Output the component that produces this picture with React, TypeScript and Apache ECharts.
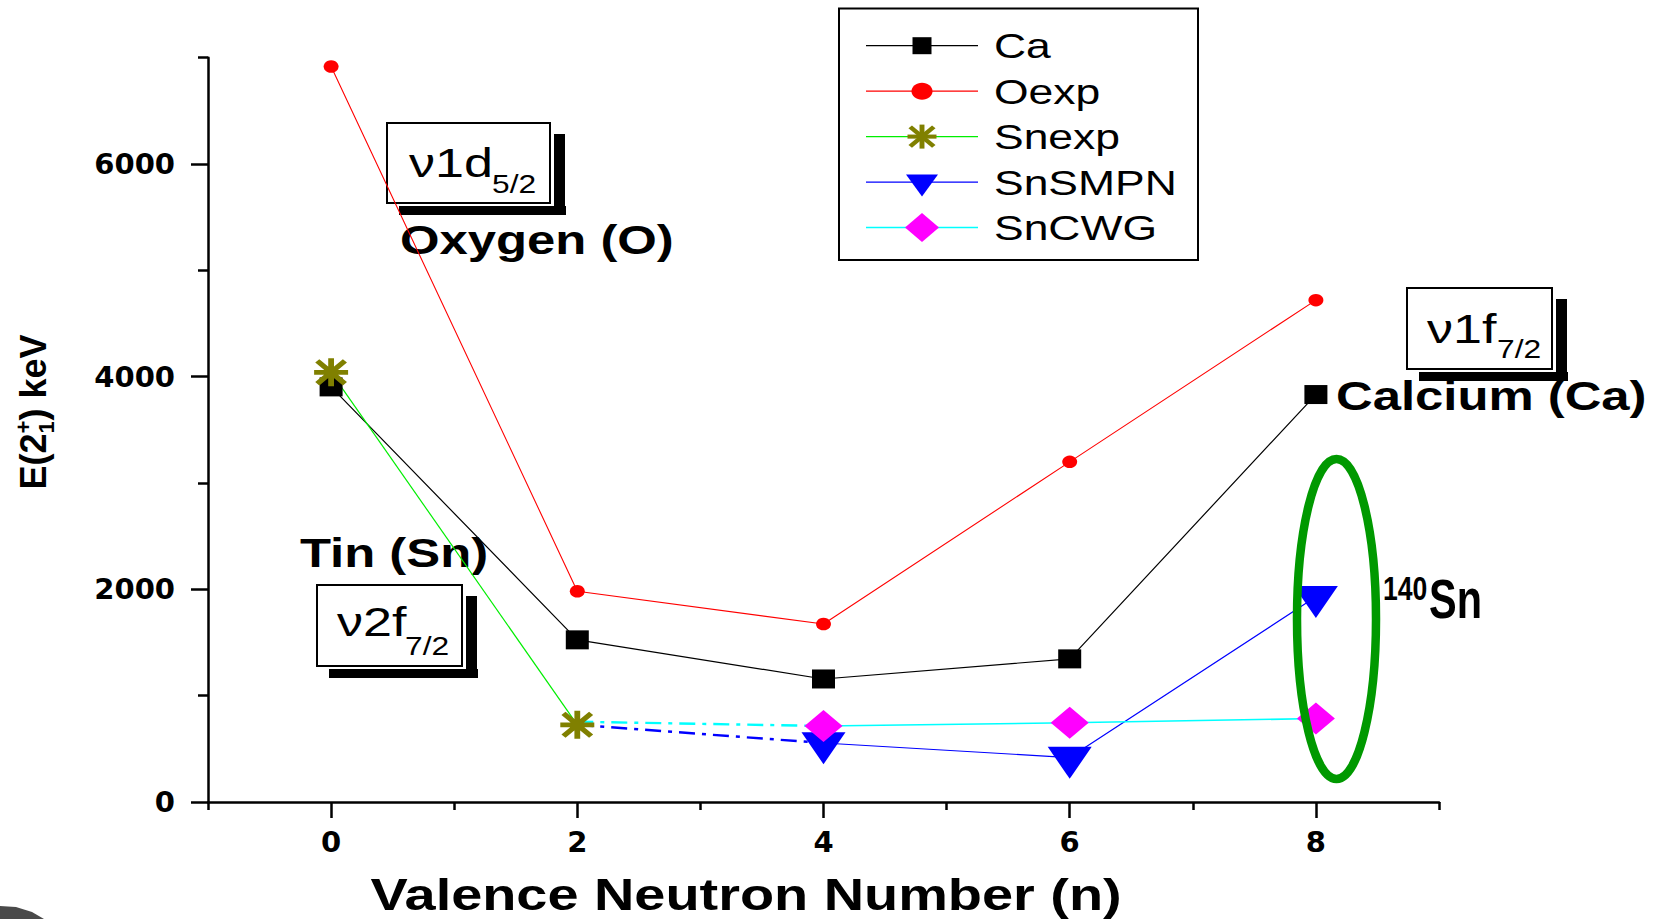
import { useEffect, useRef } from 'react';
import * as echarts from 'echarts';

// Valence neutron number (n) of each isotope
const neutronNumbers = [0, 2, 4, 6, 8];
// First 2+ excitation energies, keV
const caEnergies = [3904, 1525, 1157, 1346, 3832];
const oxygenEnergies = [6917, 1982, 1674, 3199, 4720];
const snExpNumbers = [0, 2];
const snExpEnergies = [4041, 726];
const snSmpnNumbers = [2, 4, 6, 8];
const snSmpnEnergies = [726, 555, 418, 1930];
const snCwgNumbers = [2, 4, 6, 8];
const snCwgEnergies = [755, 715, 745, 785];

const seriesNames = ['Ca', 'Oexp', 'Snexp', 'SnSMPN', 'SnCWG'];
const xLabelTicks = [0, 2, 4, 6, 8];
const xMinorTicks = [-1, 1, 3, 5, 7, 9];
const yLabelTicks = [0, 2000, 4000, 6000];
const yMinorTicks = [1000, 3000, 5000, 7000];

const lineColors = ['#000000', '#ff0000', '#00ee00', '#0000ff', '#00ffff'];
const markColors = ['#000000', '#ff0000', '#808000', '#0000ff', '#ff00ff'];

const SANS = '"Liberation Sans", Arial, sans-serif';
const TICK_FONT = '"DejaVu Sans", sans-serif';

const pairs = (xs: number[], ys: number[]) => xs.map((x, i) => [x, ys[i]]);

// Eight-armed asterisk built from four bars, all wound the same way
function asteriskPolys(cx: number, cy: number, w: number, h: number) {
  const arms: [number, number][] = [
    [0, 1],
    [Math.PI / 2, 1],
    [Math.PI / 4, 1.15],
    [(3 * Math.PI) / 4, 1.15],
  ];
  const t = 0.17;
  return arms.map(([a, d]) => {
    const u = [Math.cos(a), Math.sin(a)];
    const n = [-Math.sin(a), Math.cos(a)];
    return [
      [-d, -t],
      [d, -t],
      [d, t],
      [-d, t],
    ].map(([p, q]) => [cx + ((p * u[0] + q * n[0]) * w) / 2, cy + ((p * u[1] + q * n[1]) * h) / 2]);
  });
}

const asteriskSymbol =
  'path://' +
  asteriskPolys(0, 0, 20, 20)
    .map((poly) => 'M' + poly.map((pt) => pt.map((v) => v.toFixed(3)).join(',')).join('L') + 'Z')
    .join('');

function measure(text: string, font: string) {
  const ctx = document.createElement('canvas').getContext('2d')!;
  ctx.font = font;
  return ctx.measureText(text).width;
}

// Text placed by its alphabetic baseline
function label(
  text: string,
  x: number,
  baseline: number,
  size: number,
  opts: { bold?: boolean; scaleX?: number; align?: string; z?: number; family?: string } = {}
) {
  const align = opts.align ?? 'left';
  return {
    type: 'text',
    x,
    y: baseline - 0.35 * size,
    scaleX: opts.scaleX ?? 1,
    z: opts.z ?? 1,
    silent: true,
    style: {
      text,
      x: 0,
      y: 0,
      font: `${opts.bold ? 'bold ' : ''}${size}px ${opts.family ?? SANS}`,
      fill: '#000',
      align,
      verticalAlign: 'middle',
      textAlign: align,
      textVerticalAlign: 'middle',
    },
  };
}

// Framed orbital label with a drop shadow: ν + main part + subscript
function orbitalBox(
  box: [number, number, number, number],
  main: string,
  sub: string,
  textX: number,
  baseline: number,
  subX: number,
  subBaseline: number
) {
  const [x, y, w, h] = box;
  return [
    { type: 'rect', z: 1, silent: true, shape: { x: x + 12, y: y + h + 3, width: w + 4, height: 9 }, style: { fill: '#000' } },
    { type: 'rect', z: 1, silent: true, shape: { x: x + w + 4, y: y + 11, width: 11, height: h + 1 }, style: { fill: '#000' } },
    { type: 'rect', z: 1, silent: true, shape: { x, y, width: w, height: h }, style: { fill: 'none', stroke: '#000', lineWidth: 2 } },
    label(main, textX, baseline, 41, { scaleX: 1.27 }),
    label(sub, subX, subBaseline, 25, { scaleX: 1.27 }),
  ];
}

function legendGraphic() {
  const items: any[] = [
    { type: 'rect', z: 5, silent: true, shape: { x: 839, y: 8.5, width: 359, height: 251.5 }, style: { fill: '#fff', stroke: '#000', lineWidth: 2 } },
  ];
  const cx = 922;
  seriesNames.forEach((name, i) => {
    const y = 45.7 + i * 45.45;
    items.push({
      type: 'line',
      z: 6,
      silent: true,
      shape: { x1: 866, y1: y, x2: 978, y2: y },
      style: { stroke: lineColors[i], lineWidth: 1.3 },
    });
    const fill = markColors[i];
    if (i === 0) {
      items.push({ type: 'rect', z: 7, silent: true, shape: { x: cx - 9.5, y: y - 8.5, width: 19, height: 17 }, style: { fill } });
    } else if (i === 1) {
      items.push({ type: 'ellipse', z: 7, silent: true, shape: { cx, cy: y, rx: 10.5, ry: 8.5 }, style: { fill } });
    } else if (i === 2) {
      asteriskPolys(cx, y, 29, 24).forEach((pts) =>
        items.push({ type: 'polygon', z: 7, silent: true, shape: { points: pts }, style: { fill } })
      );
    } else if (i === 3) {
      items.push({
        type: 'polygon',
        z: 7,
        silent: true,
        shape: { points: [[cx - 16, y - 7.5], [cx + 16, y - 7.5], [cx, y + 14.5]] },
        style: { fill },
      });
    } else {
      items.push({
        type: 'polygon',
        z: 7,
        silent: true,
        shape: { points: [[cx - 17, y], [cx, y - 14.5], [cx + 17, y], [cx, y + 14.5]] },
        style: { fill },
      });
    }
    items.push(label(name, 994, y + 12.5, 35, { scaleX: 1.27, z: 7 }));
  });
  return items;
}

function yTitle() {
  const F = 36;
  const s = Math.round(F * 0.62);
  const bold = `bold ${F}px ${SANS}`;
  const small = `bold ${s}px ${SANS}`;
  const w1 = measure('E(2', bold);
  const wss = Math.max(measure('+', small), measure('1', small));
  const w3 = measure(') keV', bold);
  const start = -(w1 + wss + w3) / 2;
  return {
    type: 'group',
    x: 46,
    y: 412,
    rotation: Math.PI / 2,
    silent: true,
    children: [
      label('E(2', start, 0, F, { bold: true }),
      label('+', start + w1, -0.42 * F, s, { bold: true }),
      label('1', start + w1, 0.24 * F, s, { bold: true }),
      label(') keV', start + w1 + wss, 0, F, { bold: true }),
    ],
  };
}

export default function App() {
  const ref = useRef<HTMLDivElement>(null);

  useEffect(() => {
    if (!ref.current) return;
    const chart = echarts.init(ref.current, undefined, { renderer: 'svg' });

    const axisLine = { show: true, onZero: false, lineStyle: { color: '#000', width: 2.5 } };
    const tickLabel = {
      color: '#000',
      fontFamily: TICK_FONT,
      fontWeight: 'bold' as const,
      fontSize: 29,
      formatter: (v: number) => String(v),
    };

    chart.setOption({
      animation: false,
      backgroundColor: '#ffffff',
      grid: { left: 208, right: 228, top: 57.7, bottom: 117, containLabel: false },
      xAxis: [
        {
          type: 'value',
          position: 'bottom',
          min: -1,
          max: 9,
          interval: 1,
          axisLine,
          axisTick: { show: true, inside: false, length: 16, customValues: xLabelTicks, lineStyle: { color: '#000', width: 2.5 } },
          axisLabel: { ...tickLabel, margin: 25, customValues: xLabelTicks },
          splitLine: { show: false },
        },
        {
          type: 'value',
          position: 'bottom',
          min: -1,
          max: 9,
          interval: 1,
          axisLine: { show: false, onZero: false },
          axisTick: { show: true, inside: false, length: 8, customValues: xMinorTicks, lineStyle: { color: '#000', width: 2.5 } },
          axisLabel: { show: false },
          splitLine: { show: false },
        },
      ],
      yAxis: [
        {
          type: 'value',
          position: 'left',
          min: 0,
          max: 7000,
          interval: 1000,
          axisLine,
          axisTick: { show: true, inside: false, length: 17, customValues: yLabelTicks, lineStyle: { color: '#000', width: 2.5 } },
          axisLabel: { ...tickLabel, margin: 33, customValues: yLabelTicks },
          splitLine: { show: false },
        },
        {
          type: 'value',
          position: 'left',
          min: 0,
          max: 7000,
          interval: 1000,
          axisLine: { show: false, onZero: false },
          axisTick: { show: true, inside: false, length: 10, customValues: yMinorTicks, lineStyle: { color: '#000', width: 2.5 } },
          axisLabel: { show: false },
          splitLine: { show: false },
        },
      ],
      series: [
        {
          name: seriesNames[0],
          type: 'line',
          data: pairs(neutronNumbers, caEnergies),
          symbol: 'rect',
          symbolSize: [23, 19],
          itemStyle: { color: markColors[0] },
          lineStyle: { color: lineColors[0], width: 1.2 },
          silent: true,
        },
        {
          name: seriesNames[1],
          type: 'line',
          data: pairs(neutronNumbers, oxygenEnergies),
          symbol: 'circle',
          symbolSize: [15, 12.5],
          itemStyle: { color: markColors[1] },
          lineStyle: { color: lineColors[1], width: 1.1 },
          silent: true,
        },
        {
          name: 'SnSMPN link',
          type: 'line',
          data: pairs(snSmpnNumbers.slice(0, 2), snSmpnEnergies.slice(0, 2)),
          symbol: 'none',
          lineStyle: { color: lineColors[3], width: 2.4, type: [16, 7, 4, 7] },
          silent: true,
        },
        {
          name: 'SnCWG link',
          type: 'line',
          data: pairs(snCwgNumbers.slice(0, 2), snCwgEnergies.slice(0, 2)),
          symbol: 'none',
          lineStyle: { color: lineColors[4], width: 2.4, type: [16, 7, 4, 7] },
          silent: true,
        },
        {
          name: seriesNames[2],
          type: 'line',
          data: pairs(snExpNumbers, snExpEnergies),
          symbol: asteriskSymbol,
          symbolSize: [34, 28],
          itemStyle: { color: markColors[2] },
          lineStyle: { color: lineColors[2], width: 1.2 },
          silent: true,
        },
        {
          name: seriesNames[3],
          type: 'line',
          data: pairs(snSmpnNumbers.slice(1), snSmpnEnergies.slice(1)),
          symbol: 'triangle',
          symbolRotate: 180,
          symbolSize: [44, 32],
          symbolOffset: [0, 5.3],
          itemStyle: { color: markColors[3] },
          lineStyle: { color: lineColors[3], width: 1.2 },
          silent: true,
        },
        {
          name: seriesNames[4],
          type: 'line',
          data: pairs(snCwgNumbers.slice(1), snCwgEnergies.slice(1)),
          symbol: 'diamond',
          symbolSize: [38, 32],
          itemStyle: { color: markColors[4] },
          lineStyle: { color: lineColors[4], width: 1.6 },
          silent: true,
        },
      ],
      graphic: [
        ...orbitalBox([387, 123, 163, 80], 'ν1d', '5/2', 409, 177, 492, 193),
        ...orbitalBox([317, 585, 145, 81], 'ν2f', '7/2', 337, 636, 405, 655),
        ...orbitalBox([1407, 288, 145, 81], 'ν1f', '7/2', 1427, 343, 1497, 358),
        label('Oxygen (O)', 400, 254, 40, { bold: true, scaleX: 1.27 }),
        label('Tin (Sn)', 300, 567, 40, { bold: true, scaleX: 1.27 }),
        label('Calcium (Ca)', 1336, 410, 40, { bold: true, scaleX: 1.27 }),
        label('140', 1383, 600, 34, { bold: true, scaleX: 0.78 }),
        label('Sn', 1429, 618, 56, { bold: true, scaleX: 0.74 }),
        {
          type: 'ellipse',
          z: 10,
          silent: true,
          shape: { cx: 1336.5, cy: 619, rx: 39.5, ry: 160 },
          style: { fill: 'none', stroke: '#009900', lineWidth: 8.5 },
        },
        label('Valence Neutron Number (n)', 746, 910, 44, { bold: true, scaleX: 1.27, align: 'center' }),
        yTitle(),
        ...legendGraphic(),
        {
          type: 'polygon',
          z: 1,
          silent: true,
          shape: { points: [[0, 906], [16, 907], [32, 912], [44, 919], [0, 919]] },
          style: { fill: '#4a4a4a' },
        },
      ],
    });

    return () => chart.dispose();
  }, []);

  return <div ref={ref} style={{ position: 'absolute', left: 0, top: 0, width: 1667, height: 919 }} />;
}
